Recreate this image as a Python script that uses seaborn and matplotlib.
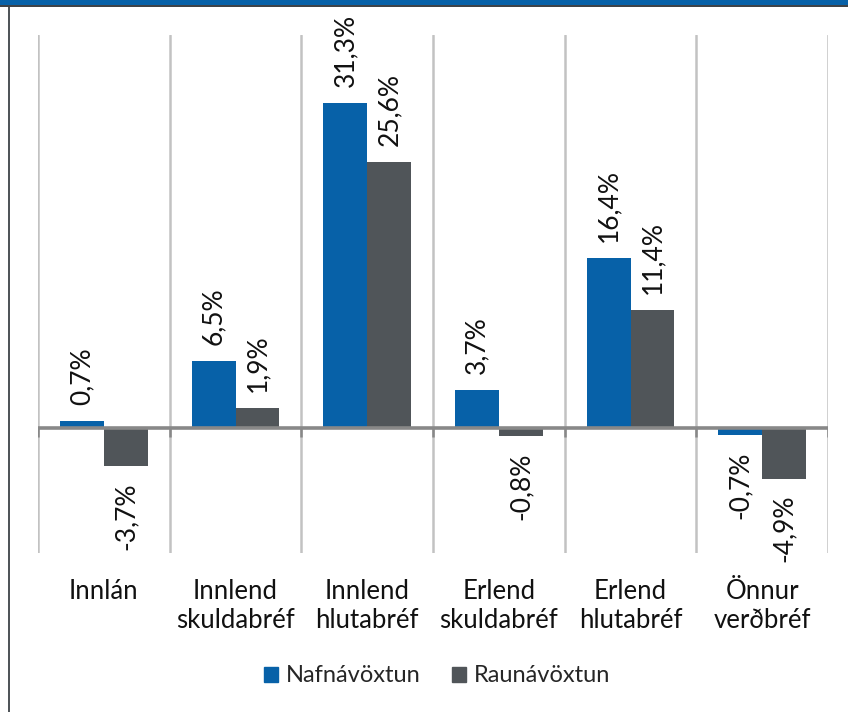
import numpy as np
import pandas as pd
import seaborn as sns
import matplotlib
matplotlib.use("Agg")
import matplotlib.pyplot as plt
from matplotlib.patches import Rectangle

categories = ["Innlán", "Innlend\nskuldabréf", "Innlend\nhlutabréf",
              "Erlend\nskuldabréf", "Erlend\nhlutabréf", "Önnur\nverðbréf"]
series_names = ["Nafnávöxtun", "Raunávöxtun"]
nafn = [0.7, 6.5, 31.3, 3.7, 16.4, -0.7]
raun = [-3.7, 1.9, 25.6, -0.8, 11.4, -4.9]

BLUE = "#0761A8"
GRAY = "#505559"

df = pd.DataFrame({
    "cat": categories * 2,
    "series": [series_names[0]] * len(categories) + [series_names[1]] * len(categories),
    "val": nafn + raun,
})

sns.set_theme(style="white")
plt.rcParams["font.family"] = ["Lato", "DejaVu Sans"]
FS_TICK = 18.5
FS_LAB = 19
FS_LEG = 17

fig = plt.figure(figsize=(8.48, 7.12), dpi=100)
ax = fig.add_axes([38 / 848, 1 - 553 / 712, (828 - 38) / 848, (553 - 35) / 712])

sns.barplot(data=df, x="cat", y="val", hue="series", order=categories,
            hue_order=series_names, palette=[BLUE, GRAY], width=0.667,
            saturation=1, dodge=True, ax=ax, legend=False, errorbar=None,
            linewidth=0)

ax.set_xlim(-0.5, len(categories) - 0.5)
ax.set_ylim(-12.04, 37.86)
ax.set_xlabel("")
ax.set_ylabel("")
ax.set_yticks([])
for s in ax.spines.values():
    s.set_visible(False)

bounds = np.arange(-0.5, len(categories), 1.0)
ax.set_xticks(bounds, minor=True)
ax.grid(which="minor", axis="x", color="#C2C2C2", lw=1.8)
ax.tick_params(axis="x", which="both", length=0, pad=19, labelsize=FS_TICK, labelcolor="#111111")
ax.set_xticks(range(len(categories)))
ax.set_xticklabels(categories, linespacing=1.2)
ax.axhline(0, color="#888888", lw=2.6, zorder=3)
ax.vlines(bounds, -0.85, 0, color="#888888", lw=1.8, zorder=3)

for cont, vals in zip(ax.containers, [nafn, raun]):
    labels = [f"{v:.1f}%".replace(".", ",") for v in vals]
    ax.bar_label(cont, labels=labels, rotation=90, padding=11.5, fontsize=FS_LAB, color="#111111")

handles = [Rectangle((0, 0), 1, 1, color=BLUE), Rectangle((0, 0), 1, 1, color=GRAY)]
fig.legend(handles, series_names, loc="center", bbox_to_anchor=(437 / 848, 1 - 676 / 712),
           ncol=2, frameon=False, fontsize=FS_LEG, handlelength=0.6, handleheight=0.6,
           handletextpad=0.35, columnspacing=1.3)

# header band and left border
fig.add_artist(Rectangle((0, 1 - 5 / 712), 1, 5 / 712, transform=fig.transFigure,
                         color=BLUE, lw=0))
fig.add_artist(Rectangle((0, 1 - 7 / 712), 1, 2 / 712, transform=fig.transFigure,
                         color="#3F4347", lw=0))
fig.add_artist(Rectangle((7.5 / 848, 0), 2.7 / 848, 1 - 7 / 712, transform=fig.transFigure,
                         color=GRAY, lw=0))

fig.savefig("out.png", dpi=100)
